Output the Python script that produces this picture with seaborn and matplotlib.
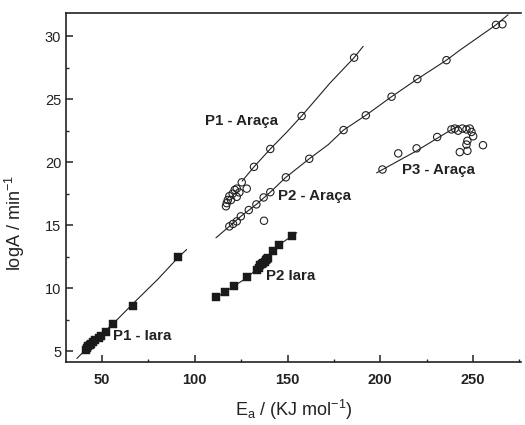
import numpy as np
import pandas as pd
import matplotlib
matplotlib.use('agg')
import matplotlib.pyplot as plt
import seaborn as sns
from matplotlib.ticker import MultipleLocator

# points
p1_iara_x = [41.5, 42.0, 42.6, 43.2, 43.9, 45.0, 46.2, 48.5, 49.5, 52.2, 56.1, 66.5, 91.1]
p1_iara_y = [5.1, 5.25, 5.4, 5.5, 5.6, 5.74, 5.87, 6.05, 6.19, 6.53, 7.12, 8.57, 12.45]
p1_iara_line_x = [36.4, 45.0, 56.1, 66.5, 80.0, 91.1, 95.6]
p1_iara_line_y = [4.42, 5.7, 7.2, 8.75, 10.7, 12.45, 13.07]

p2_iara_x = [111.4, 116.3, 121.3, 128.3, 133.4, 134.5, 135.3, 136.2, 137.0, 137.6, 138.3, 139.0, 139.6, 142.2, 145.5, 152.5]
p2_iara_y = [9.26, 9.7, 10.18, 10.85, 11.45, 11.6, 11.8, 11.9, 12.0, 12.1, 12.2, 12.3, 12.4, 12.95, 13.45, 14.17]
p2_iara_line_x = [110.0, 121.3, 128.3, 137.0, 145.5, 155.0]
p2_iara_line_y = [9.1, 10.18, 10.85, 12.0, 13.45, 14.4]

p1_araca_x = [116.8, 117.2, 117.8, 118.6, 119.5, 120.4, 121.5, 122.6, 122.6, 124.0, 125.3, 128.0, 131.9, 140.7, 157.6, 185.9]
p1_araca_y = [16.5, 16.75, 17.0, 17.3, 17.0, 17.5, 17.8, 17.25, 17.9, 17.6, 18.4, 17.9, 19.63, 21.05, 23.67, 28.3]
p1_araca_line_x = [125.5, 131.9, 140.7, 150.0, 157.6, 166.0, 173.0, 185.9, 190.8]
p1_araca_line_y = [18.5, 19.63, 21.05, 22.45, 23.67, 25.1, 26.3, 28.3, 29.2]

p2_araca_x = [118.6, 120.6, 122.6, 124.8, 129.1, 133.2, 137.1, 140.7, 137.3, 149.1, 161.7, 180.2, 192.2, 206.1, 220.0, 235.7, 262.4, 265.9]
p2_araca_y = [14.9, 15.1, 15.3, 15.7, 16.2, 16.65, 17.2, 17.62, 15.35, 18.8, 20.27, 22.55, 23.72, 25.2, 26.6, 28.1, 30.9, 30.95]
p2_araca_line_x = [111.4, 118.6, 124.8, 133.2, 140.7, 149.1, 161.7, 172.0, 180.2, 192.2, 206.1, 220.0, 235.7, 243.0, 262.4, 268.9]
p2_araca_line_y = [14.0, 14.9, 15.7, 16.65, 17.62, 18.8, 20.27, 21.4, 22.55, 23.72, 25.2, 26.6, 28.1, 28.9, 30.9, 31.7]

p3_araca_x = [201.2, 209.7, 219.6, 230.7, 238.4, 240.2, 242.0, 244.3, 246.5, 248.3, 249.2, 250.1, 247.0, 246.5, 247.0, 242.9, 255.4]
p3_araca_y = [19.42, 20.7, 21.1, 22.0, 22.6, 22.67, 22.5, 22.67, 22.6, 22.67, 22.4, 22.06, 21.7, 21.4, 20.9, 20.8, 21.35]
p3_araca_line_x = [198.0, 209.7, 219.6, 230.7, 242.3]
p3_araca_line_y = [19.15, 20.1, 20.9, 21.9, 22.92]

sns.set_style('ticks')
plt.rcParams['font.family'] = ['Liberation Sans', 'DejaVu Sans']
plt.rcParams['mathtext.fontset'] = 'custom'
plt.rcParams['mathtext.rm'] = 'Liberation Sans'

fig = plt.figure(figsize=(5.25, 4.25), dpi=100)
ax = fig.add_axes([0.126, 0.148, 0.866, 0.821])

lines = [(p1_iara_line_x, p1_iara_line_y), (p2_iara_line_x, p2_iara_line_y),
         (p1_araca_line_x, p1_araca_line_y), (p2_araca_line_x, p2_araca_line_y),
         (p3_araca_line_x, p3_araca_line_y)]
for lx, ly in lines:
    sns.lineplot(x=lx, y=ly, ax=ax, sort=False, color='#222222', lw=0.8, estimator=None)

for sx, sy in [(p1_iara_x, p1_iara_y), (p2_iara_x, p2_iara_y)]:
    sns.scatterplot(x=sx, y=sy, ax=ax, marker='s', s=26, color='#1a1a1a',
                    edgecolor='#1a1a1a', linewidth=0.3, zorder=3)

for sx, sy in [(p1_araca_x, p1_araca_y), (p2_araca_x, p2_araca_y), (p3_araca_x, p3_araca_y)]:
    sns.scatterplot(x=sx, y=sy, ax=ax, marker='o', s=28, facecolor='none',
                    edgecolor='#222222', linewidth=0.8, zorder=3)

labels = [('P1 - Araça', 105.5, 23.3), ('P2 - Araça', 144.8, 17.3),
          ('P3 - Araça', 211.6, 19.37), ('P2 Iara', 138.4, 10.98),
          ('P1 - Iara', 55.9, 6.2)]
for txt, tx, ty in labels:
    ax.text(tx, ty, txt, fontsize=10.8, fontweight='bold', va='center', ha='left', color='#222222')

ax.set_xlim(30.6, 275.8)
ax.set_ylim(4.13, 31.83)
ax.xaxis.set_major_locator(MultipleLocator(50))
ax.xaxis.set_minor_locator(MultipleLocator(25))
ax.yaxis.set_major_locator(MultipleLocator(5))
ax.yaxis.set_minor_locator(MultipleLocator(2.5))
ax.tick_params(which='major', direction='in', length=5, width=1.1, labelsize=10.5, colors='#222222')
ax.tick_params(axis='x', which='major', pad=8)
ax.tick_params(which='minor', direction='in', length=2.5, width=1.0)
for lab in ax.get_xticklabels():
    lab.set_fontweight('bold')
ax.spines['right'].set_visible(False)
for sp in ['left', 'bottom', 'top']:
    ax.spines[sp].set_linewidth(1.2)
    ax.spines[sp].set_color('#222222')

ax.set_xlabel(r'E$_\mathregular{a}$ / (KJ mol$^\mathregular{-1}$)', fontsize=13, color='#222222')
ax.set_ylabel(r'logA / min$^\mathregular{-1}$', fontsize=13, color='#222222')
ax.xaxis.set_label_coords(0.5, -0.103)
ax.yaxis.set_label_coords(-0.086, 0.40)

plt.savefig('out.png', dpi=100)
plt.close()
